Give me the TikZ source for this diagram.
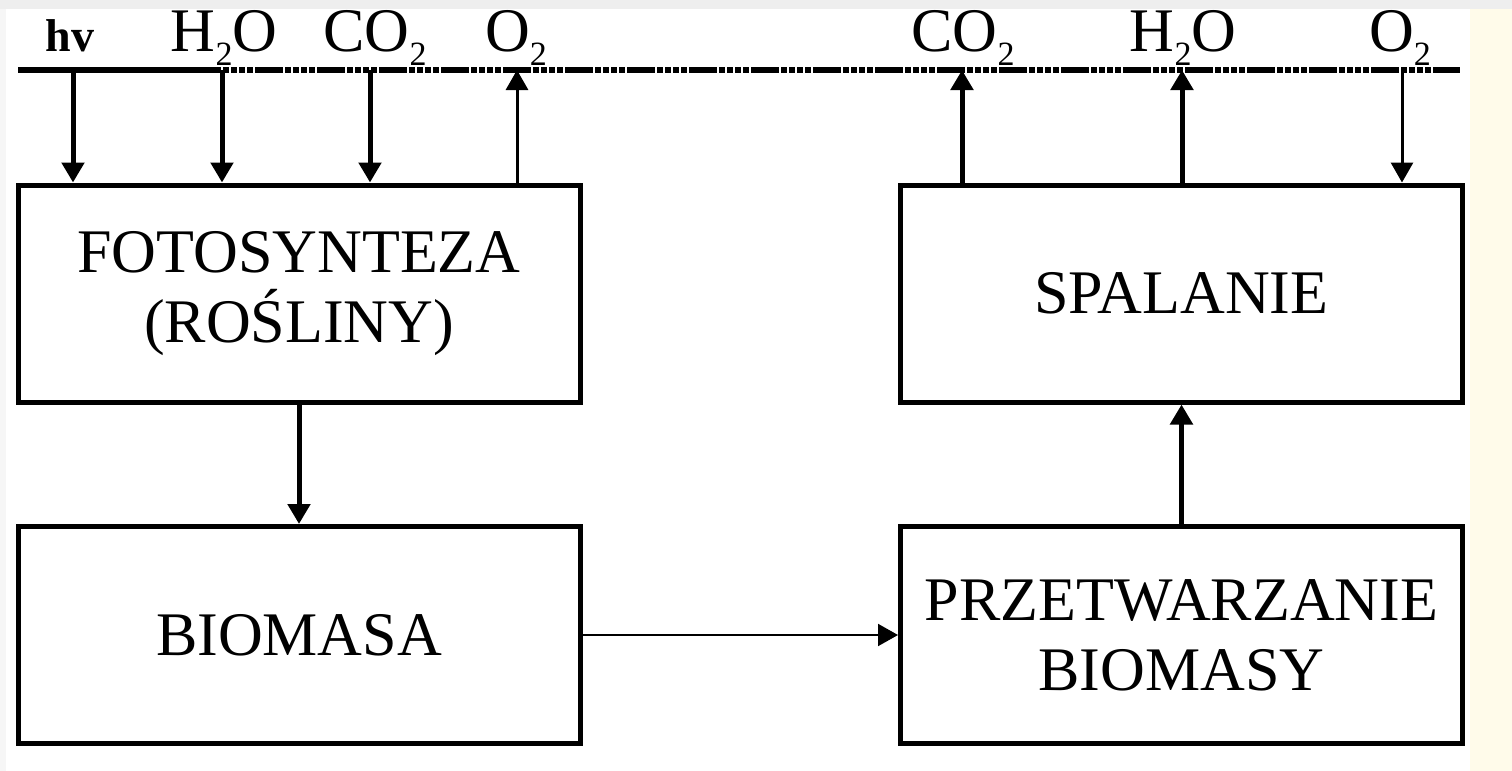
\documentclass[tikz,border=0pt]{standalone}
\usepackage{fontspec}
\setmainfont{Liberation Serif}
\usetikzlibrary{arrows.meta}
\definecolor{cream}{RGB}{255,251,234}
\definecolor{topgrey}{RGB}{238,238,238}
\definecolor{leftgrey}{RGB}{246,246,246}
\newcommand\mysubtwo{\raisebox{-6.5pt}{\fontsize{17}{17}\selectfont 2}}
\begin{document}
\begin{tikzpicture}[x=0.5pt,y=-0.5pt,
  box/.style={draw, line width=2.5pt, minimum width=281pt, minimum height=108.5pt,
    align=center, inner sep=0pt, font=\fontsize{31}{35}\selectfont},
  lab/.style={anchor=base, inner sep=0pt, font=\fontsize{31}{35}\selectfont},
  flow/.style={line width=2.5pt, -{Triangle[width=11pt,length=10pt]}},
  thinflow/.style={line width=1.5pt, -{Triangle[width=11pt,length=10pt]}},
  hairflow/.style={line width=1pt, -{Triangle[width=11pt,length=10pt]}},
  atmos/.style={line width=2.6pt},
  atmosdash/.style={line width=2.6pt,
    dash pattern=on 14pt off 1pt on 3pt off 1pt on 3pt off 1pt on 3pt off 1pt on 3pt off 1pt}]
% background
\fill[white] (0,0) rectangle (1512,771);
\fill[topgrey] (0,0) rectangle (1512,9);
\fill[leftgrey] (0,9) rectangle (6,771);
\fill[cream] (1470,9) rectangle (1512,771);

% boxes
\node[box] (foto) at (299,293.5) {FOTOSYNTEZA\\(ROŚLINY)};
\node[box] (bio) at (299,635) {BIOMASA};
\node[box] (spal) at (1181.5,293.5) {SPALANIE};
\node[box] (przet) at (1181.5,635) {PRZETWARZANIE\\BIOMASY};

% atmosphere line
\coordinate (lineL) at (18,70);
\coordinate (lineM) at (193,70);
\coordinate (lineR) at (1460,70);
\draw[atmos] (lineL) -- (lineM);
\draw[atmosdash] (lineM) -- (lineR);

% points on the line
\coordinate (thv) at (73,70);
\coordinate (th2oL) at (222,70);
\coordinate (tco2L) at (370,70);
\coordinate (to2L) at (517,70);
\coordinate (tco2R) at (962,70);
\coordinate (th2oR) at (1182,70);
\coordinate (to2R) at (1402,70);

% labels
\node[anchor=base, inner sep=0pt, font=\fontsize{23}{23}\selectfont\bfseries] (lhv) at (70,52) {hv};
\node[lab] (lh2oL) at (224,52) {H\mysubtwo O};
\node[lab] (lco2L) at (375,52) {CO\mysubtwo};
\node[lab] (lo2L) at (516,52) {O\mysubtwo};
\node[lab] (lco2R) at (963,52) {CO\mysubtwo};
\node[lab] (lh2oR) at (1183,52) {H\mysubtwo O};
\node[lab] (lo2R) at (1400,52) {O\mysubtwo};

% photosynthesis exchanges
\draw[flow] (thv) -- (thv |- foto.north);
\draw[flow] (th2oL) -- (th2oL |- foto.north);
\draw[flow] (tco2L) -- (tco2L |- foto.north);
\draw[thinflow] (to2L |- foto.north) -- (to2L);

% combustion exchanges
\draw[flow] (tco2R |- spal.north) -- (tco2R);
\draw[flow] (th2oR |- spal.north) -- (th2oR);
\draw[thinflow] (to2R) -- (to2R |- spal.north);

% main chain
\draw[flow] (foto.south) -- (bio.north);
\draw[hairflow] (bio.east) -- (przet.west);
\draw[flow] (przet.north) -- (spal.south);
\end{tikzpicture}
\end{document}
